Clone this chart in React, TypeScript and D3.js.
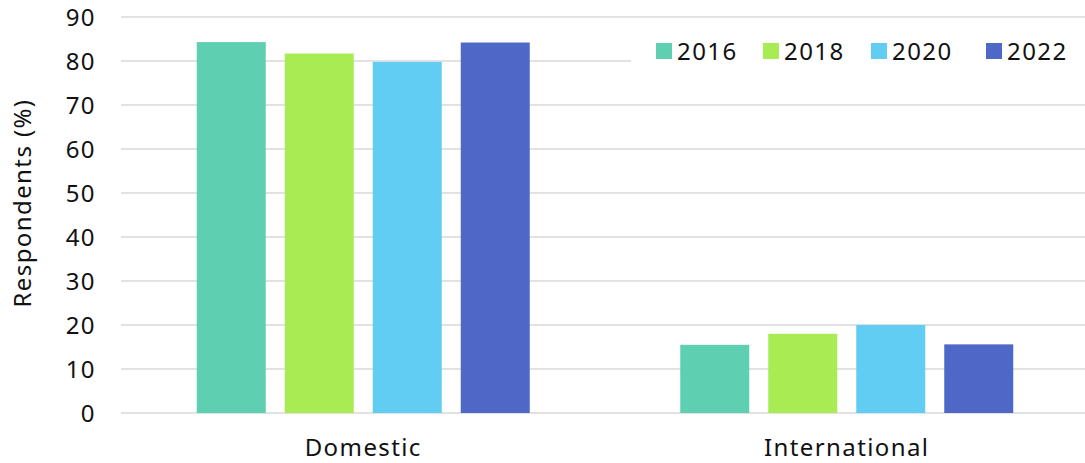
import React from "react";
import * as d3 from "d3";

const categories = ["Domestic", "International"];
const years = ["2016", "2018", "2020", "2022"];
const values2016 = [84.3, 15.5];
const values2018 = [81.7, 18.0];
const values2020 = [79.8, 20.0];
const values2022 = [84.2, 15.6];
const yTicks = [0, 10, 20, 30, 40, 50, 60, 70, 80, 90];
const colors = ["#5FCFB2", "#A9EB52", "#61CDF2", "#4F68C8"];

const series = [values2016, values2018, values2020, values2022];

const W = 1085;
const H = 463;
const FONT = "'Noto Sans', 'Open Sans', sans-serif";
const GROUP = 333;

export default function App() {
  const x0 = d3.scaleBand().domain(categories).range([121.5, 1088.5]);
  const x1 = d3.scaleBand().domain(years).range([0, GROUP]).paddingInner(19 / 88).paddingOuter(0);
  const y = d3.scaleLinear().domain([0, 90]).range([413, 17]);
  const legendX = [656, 763, 871, 986];

  return (
    <svg width={W} height={H} style={{ position: "absolute", left: 0, top: 0, background: "#fff" }} fontFamily={FONT} letterSpacing={1.4}>
      {yTicks.map((t) => (
        <g key={t}>
          <line x1={121} x2={W} y1={y(t)} y2={y(t)} stroke="#d9d9d9" strokeWidth={1.5} />
          <text x={96} y={y(t)} dy="0.36em" textAnchor="end" fontSize={24} fill="#111">{t}</text>
        </g>
      ))}
      {categories.map((c, ci) => {
        const center = (x0(c) as number) + x0.bandwidth() / 2;
        const start = center - GROUP / 2;
        return (
          <g key={c}>
            {years.map((yr, si) => (
              <rect key={yr} x={start + (x1(yr) as number)} width={x1.bandwidth()} y={y(series[si][ci])}
                height={y(0) - y(series[si][ci])} fill={colors[si]} />
            ))}
            <text x={center} y={456} textAnchor="middle" fontSize={24} fill="#111">{c}</text>
          </g>
        );
      })}
      <rect x={631} y={30} width={454} height={42} fill="#fff" />
      {years.map((yr, i) => (
        <g key={yr}>
          <rect x={legendX[i]} y={43} width={16} height={16} fill={colors[i]} />
          <text x={legendX[i] + 21} y={51} dy="0.36em" fontSize={24} fill="#111">{yr}</text>
        </g>
      ))}
      <text transform={`translate(31,203) rotate(-90)`} textAnchor="middle" fontSize={24} fill="#111">Respondents (%)</text>
    </svg>
  );
}
